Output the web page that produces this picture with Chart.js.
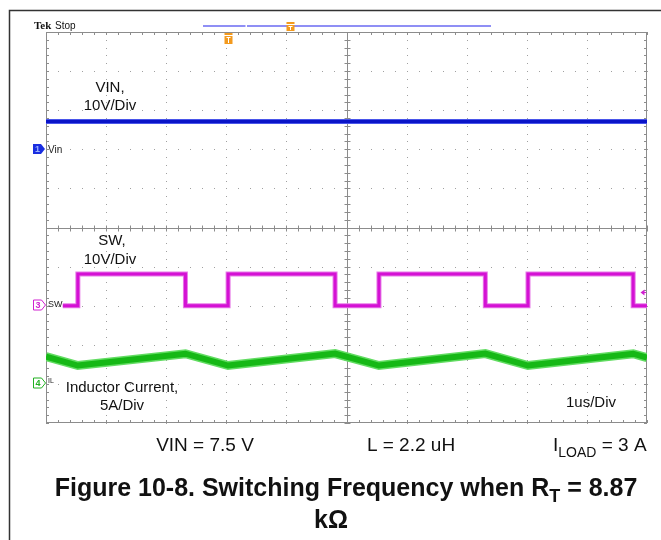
<!DOCTYPE html>
<html>
<head>
<meta charset="utf-8">
<title>Switching Frequency</title>
<script src="https://cdn.jsdelivr.net/npm/chart.js@4.4.0/dist/chart.umd.min.js"></script>
<style>
  html, body { margin: 0; padding: 0; background: #fff; }
  #wrap { width: 661px; height: 540px; }
</style>
</head>
<body>
<div id="wrap"><canvas id="scope" width="661" height="540"></canvas></div>
<script>
// Time base 1 us/div, trigger at centre of screen
const timeMin = -5;
const timeMax = 5;

// Ch1 - VIN (V)
const vinTime = [-5, 5];
const vinVolts = [7.1, 7.1];

// Ch3 - SW node (V), one point per edge
const swTime = [-4.72, -4.47, -2.68, -1.97, -0.19, 0.54, 2.31, 3.02, 4.77, 5];
const swVolts = [0, 8.1, 0, 8.1, 0, 8.1, 0, 8.1, 0, 0];

// Ch4 - inductor current (A), ripple corners
const ilTime = [-5, -4.47, -2.68, -1.97, -0.19, 0.54, 2.31, 3.02, 4.77, 5];
const ilAmps = [3.5, 2.35, 3.86, 2.35, 3.88, 2.35, 3.88, 2.35, 3.86, 3.35];

// ground position (div) and units per division for each channel
const ch1 = { offset: 2, perDiv: 10 };
const ch3 = { offset: -2, perDiv: 10 };
const ch4 = { offset: -4, perDiv: 5 };

function toDiv(times, values, ch) {
  return times.map((t, i) => ({ x: t, y: ch.offset + values[i] / ch.perDiv }));
}

function trace(data, color, width, order, extra) {
  return Object.assign({
    data: data,
    showLine: true,
    borderColor: color,
    borderWidth: width,
    pointRadius: 0,
    tension: 0,
    borderCapStyle: 'butt',
    borderJoinStyle: 'miter',
    order: order
  }, extra || {});
}

// Graticule: dotted divisions, solid border and centre cross with minor ticks
const graticule = {
  id: 'graticule',
  beforeDatasetsDraw(chart) {
    const ctx = chart.ctx;
    const xs = chart.scales.x, ys = chart.scales.y;
    const a = chart.chartArea;
    ctx.save();
    ctx.fillStyle = '#a0a0a0';
    for (let d = -4; d <= 4; d++) {
      if (d === 0) continue;
      const px = Math.round(xs.getPixelForValue(d));
      const py = Math.round(ys.getPixelForValue(d));
      for (let m = -25; m <= 25; m++) {
        const v = m / 5;
        ctx.fillRect(px, Math.round(ys.getPixelForValue(v)), 1, 1);
        ctx.fillRect(Math.round(xs.getPixelForValue(v)), py, 1, 1);
      }
    }
    ctx.strokeStyle = '#8c8c8c';
    ctx.lineWidth = 1;
    ctx.strokeRect(Math.round(a.left) + 0.5, Math.round(a.top) + 0.5,
      Math.round(a.right - a.left) - 1, Math.round(a.bottom - a.top) - 1);
    const cx = Math.round(xs.getPixelForValue(0)) + 0.5;
    const cy = Math.round(ys.getPixelForValue(0)) + 0.5;
    ctx.beginPath();
    ctx.moveTo(cx, a.top); ctx.lineTo(cx, a.bottom);
    ctx.moveTo(a.left, cy); ctx.lineTo(a.right, cy);
    for (let m = -25; m <= 25; m++) {
      const px = Math.round(xs.getPixelForValue(m / 5)) + 0.5;
      const py = Math.round(ys.getPixelForValue(m / 5)) + 0.5;
      ctx.moveTo(px, a.top); ctx.lineTo(px, a.top + 3);
      ctx.moveTo(px, a.bottom); ctx.lineTo(px, a.bottom - 3);
      ctx.moveTo(px, cy - 3); ctx.lineTo(px, cy + 3);
      ctx.moveTo(a.left, py); ctx.lineTo(a.left + 3, py);
      ctx.moveTo(a.right, py); ctx.lineTo(a.right - 3, py);
      ctx.moveTo(cx - 3, py); ctx.lineTo(cx + 3, py);
    }
    ctx.stroke();
    ctx.restore();
  }
};

function chMarker(ctx, x, y, num, color, filled) {
  ctx.beginPath();
  ctx.moveTo(x, y - 5); ctx.lineTo(x + 8, y - 5); ctx.lineTo(x + 12, y);
  ctx.lineTo(x + 8, y + 5); ctx.lineTo(x, y + 5); ctx.closePath();
  ctx.font = 'bold 9px "Liberation Sans"';
  ctx.textAlign = 'center';
  ctx.textBaseline = 'middle';
  if (filled) {
    ctx.fillStyle = color; ctx.fill();
    ctx.fillStyle = '#9ab0ff';
  } else {
    ctx.strokeStyle = color; ctx.lineWidth = 1; ctx.stroke();
    ctx.fillStyle = color;
  }
  ctx.fillText(num, x + 4.5, y + 0.5);
}

function trigMarker(ctx, x, top, h) {
  ctx.fillStyle = '#f39a1e';
  ctx.fillRect(x - 4, top, 8, 2);
  ctx.fillRect(x - 4, top + 3, 8, h - 3);
  ctx.fillStyle = '#fff';
  ctx.fillRect(x - 2, top + 4, 4, 1);
  ctx.fillRect(x - 0.5, top + 4, 1, h - 5);
}

// Scope screen furniture and annotation text
const overlay = {
  id: 'overlay',
  afterDraw(chart) {
    const ctx = chart.ctx;
    ctx.save();
    // outer frame
    ctx.strokeStyle = '#333';
    ctx.lineWidth = 1.5;
    ctx.beginPath();
    ctx.moveTo(9.5, 541); ctx.lineTo(9.5, 10.5); ctx.lineTo(663, 10.5);
    ctx.stroke();

    // header
    ctx.fillStyle = '#111';
    ctx.textAlign = 'left';
    ctx.textBaseline = 'alphabetic';
    ctx.font = 'bold 11px "Liberation Serif"';
    ctx.fillText('Tek', 34, 29);
    ctx.font = '10px "Liberation Sans"';
    ctx.fillText('Stop', 55, 29);

    ctx.strokeStyle = '#6b6bf2';
    ctx.lineWidth = 1.5;
    ctx.beginPath();
    ctx.moveTo(203, 26); ctx.lineTo(245.5, 26);
    ctx.moveTo(247, 26); ctx.lineTo(491, 26);
    ctx.stroke();
    trigMarker(ctx, 290.5, 22, 9);
    trigMarker(ctx, 228.5, 33, 11);

    // channel markers
    chMarker(ctx, 33, 149, '1', '#1a2ee0', true);
    chMarker(ctx, 33.5, 305, '3', '#d020d0', false);
    chMarker(ctx, 33.5, 383, '4', '#20b020', false);
    ctx.fillStyle = '#222';
    ctx.textAlign = 'left';
    ctx.textBaseline = 'middle';
    ctx.font = '10px "Liberation Sans"';
    ctx.fillText('Vin', 48, 150);
    ctx.font = '9px "Liberation Sans"';
    ctx.fillText('SW', 48, 305);
    ctx.font = '7px "Liberation Sans"';
    ctx.fillText('IL', 48, 381);

    // trigger level arrow (ch3)
    ctx.fillStyle = '#d020d0';
    ctx.beginPath();
    ctx.moveTo(640.5, 292.5); ctx.lineTo(644.5, 289.5); ctx.lineTo(644.5, 295.5);
    ctx.closePath(); ctx.fill();
    ctx.fillRect(644, 292, 2, 1);

    // trace annotations
    ctx.fillStyle = '#111';
    ctx.textAlign = 'center';
    ctx.textBaseline = 'alphabetic';
    ctx.font = '15px "Liberation Sans"';
    ctx.fillText('VIN,', 110, 92);
    ctx.fillText('10V/Div', 110, 110);
    ctx.fillText('SW,', 112, 245);
    ctx.fillText('10V/Div', 110, 264);
    ctx.fillText('Inductor Current,', 122, 392);
    ctx.fillText('5A/Div', 122, 410);
    ctx.fillText('1us/Div', 591, 407);

    // test conditions
    ctx.font = '19px "Liberation Sans"';
    ctx.fillText('VIN = 7.5 V', 205, 451);
    ctx.fillText('L = 2.2 uH', 411, 451);
    ctx.textAlign = 'left';
    let x = 553;
    ctx.fillText('I', x, 451); x += ctx.measureText('I').width;
    ctx.font = '14px "Liberation Sans"';
    ctx.fillText('LOAD', x, 457); x += ctx.measureText('LOAD').width;
    ctx.font = '19px "Liberation Sans"';
    ctx.fillText(' = 3 A', x, 451);

    // caption
    const f1 = 'bold 25px "Liberation Sans"';
    const f2 = 'bold 18px "Liberation Sans"';
    const p1 = 'Figure 10-8. Switching Frequency when R';
    const p2 = 'T';
    const p3 = ' = 8.87';
    ctx.font = f1; const w1 = ctx.measureText(p1).width, w3 = ctx.measureText(p3).width;
    ctx.font = f2; const w2 = ctx.measureText(p2).width;
    x = 346 - (w1 + w2 + w3) / 2;
    ctx.font = f1; ctx.fillText(p1, x, 496); x += w1;
    ctx.font = f2; ctx.fillText(p2, x, 502); x += w2;
    ctx.font = f1; ctx.fillText(p3, x, 496);
    ctx.textAlign = 'center';
    ctx.fillText('k\u03a9', 331, 528);
    ctx.restore();
  }
};

new Chart(document.getElementById('scope'), {
  type: 'scatter',
  data: {
    datasets: [
      trace(toDiv(vinTime, vinVolts, ch1), '#0a14c8', 3, 0),
      trace(toDiv(vinTime, vinVolts, ch1), '#4a56ea', 5, 1),
      trace(toDiv(swTime, swVolts, ch3), '#d411d4', 3, 0, { stepped: 'before' }),
      trace(toDiv(swTime, swVolts, ch3), '#e77ae7', 5, 1, { stepped: 'before' }),
      trace(toDiv(ilTime, ilAmps, ch4), '#16b816', 6, 0),
      trace(toDiv(ilTime, ilAmps, ch4), '#62dc62', 9, 1)
    ]
  },
  options: {
    responsive: false,
    animation: false,
    layout: { padding: { left: 46, right: 14, top: 32, bottom: 117 } },
    plugins: { legend: { display: false }, tooltip: { enabled: false } },
    scales: {
      x: { type: 'linear', min: timeMin, max: timeMax, display: false },
      y: { type: 'linear', min: -5, max: 5, display: false }
    }
  },
  plugins: [graticule, overlay]
});
</script>
</body>
</html>
